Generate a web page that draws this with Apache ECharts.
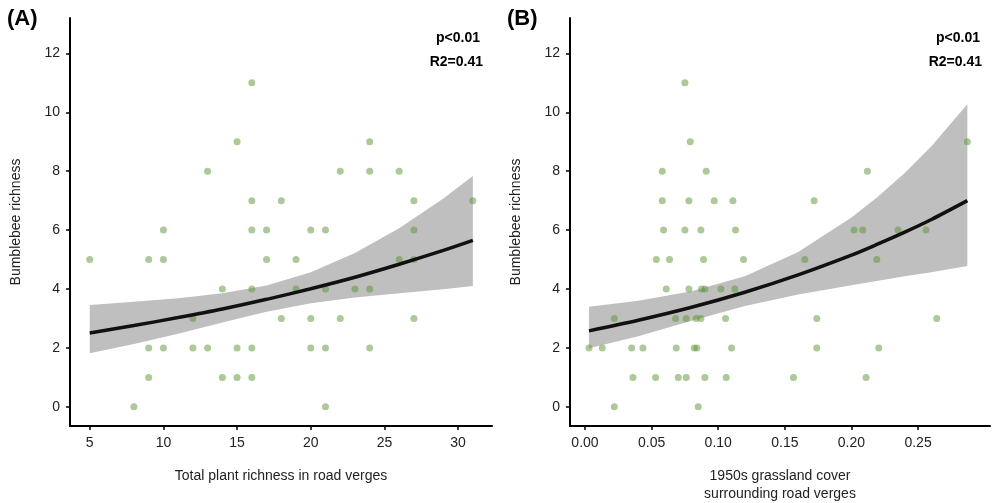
<!DOCTYPE html>
<html>
<head>
<meta charset="utf-8">
<script src="https://cdn.jsdelivr.net/npm/echarts@6/dist/echarts.min.js"></script>
<style>
  html, body { margin: 0; padding: 0; background: #fff; }
  #chart { width: 998px; height: 503px; }
</style>
</head>
<body>
<div id="chart"></div>
<script>
// panel A: plant richness vs bumblebee richness
const plantRichness = [5, 8, 9, 9, 9, 10, 10, 10, 12, 12, 13, 13, 14, 14, 15, 15, 15,
  16, 16, 16, 16, 16, 16, 17, 17, 18, 18, 19, 19, 20, 20, 20, 21, 21, 21, 21,
  22, 22, 23, 24, 24, 24, 24, 26, 26, 27, 27, 27, 27, 31]
const bumblebeeA = [5, 0, 5, 2, 1, 6, 5, 2, 3, 2, 8, 2, 4, 1, 9, 2, 1,
  11, 7, 6, 4, 2, 1, 6, 5, 7, 3, 5, 4, 6, 3, 2, 6, 4, 2, 0,
  8, 3, 4, 9, 8, 4, 2, 8, 5, 7, 6, 5, 3, 7]

// panel B: 1950s grassland cover vs bumblebee richness
const grassCover = [0.075, 0.079, 0.058, 0.091, 0.212, 0.058, 0.078, 0.097, 0.111, 0.172,
  0.059, 0.075, 0.087, 0.113, 0.202, 0.2085, 0.235, 0.256,
  0.0535, 0.0635, 0.089, 0.119, 0.165, 0.219,
  0.061, 0.078, 0.0875, 0.090, 0.102, 0.1125,
  0.022, 0.068, 0.076, 0.0835, 0.087, 0.1055, 0.174, 0.264,
  0.003, 0.013, 0.035, 0.0435, 0.0685, 0.082, 0.084, 0.110, 0.174, 0.2205,
  0.036, 0.053, 0.070, 0.076, 0.090, 0.106, 0.1565, 0.211,
  0.022, 0.085, 0.287]
const bumblebeeB = [11, 9, 8, 8, 8, 7, 7, 7, 7, 7,
  6, 6, 6, 6, 6, 6, 6, 6,
  5, 5, 5, 5, 5, 5,
  4, 4, 4, 4, 4, 4,
  3, 3, 3, 3, 3, 3, 3, 3,
  2, 2, 2, 2, 2, 2, 2, 2, 2, 2,
  1, 1, 1, 1, 1, 1, 1, 1,
  0, 0, 9]

// fitted curves and confidence bands
const fitXA = [5, 8, 11, 14, 17, 20, 23, 26, 29, 31]
const fitYA = [2.51, 2.76, 3.03, 3.32, 3.65, 4.01, 4.40, 4.84, 5.31, 5.65]
const bandHiA = [3.46, 3.57, 3.69, 3.86, 4.12, 4.57, 5.22, 6.06, 7.07, 7.84]
const bandLoA = [1.82, 2.13, 2.48, 2.86, 3.23, 3.52, 3.71, 3.86, 3.99, 4.10]

const fitXB = [0.003, 0.04, 0.08, 0.12, 0.16, 0.2, 0.22, 0.24, 0.26, 0.287]
const fitYB = [2.58, 2.94, 3.38, 3.89, 4.48, 5.15, 5.53, 5.93, 6.36, 7.00]
const bandHiB = [3.40, 3.60, 3.92, 4.43, 5.26, 6.43, 7.14, 7.94, 8.85, 10.27]
const bandLoB = [1.99, 2.40, 2.92, 3.42, 3.81, 4.13, 4.28, 4.43, 4.57, 4.78]

const xTicksA = [5, 10, 15, 20, 25, 30]
const xTicksB = [0, 0.05, 0.1, 0.15, 0.2, 0.25]
const yTicks = [0, 2, 4, 6, 8, 10, 12]

const FONT = "'Liberation Sans', Arial, sans-serif"

const zip = (xs, ys) => xs.map((x, i) => [x, ys[i]])

const makeX = (idx, min, max, ticks, name, gap, fmt) => ({
  gridIndex: idx,
  type: 'value',
  min: min,
  max: max,
  splitLine: { show: false },
  axisLine: { onZero: false, lineStyle: { color: '#000', width: 2 } },
  axisTick: { customValues: ticks, length: 4, lineStyle: { color: '#000', width: 1.5 } },
  axisLabel: { customValues: ticks, color: '#222', fontSize: 14, margin: 10, fontFamily: FONT, formatter: fmt },
  name: name,
  nameLocation: 'middle',
  nameGap: gap,
  nameTextStyle: { color: '#222', fontSize: 14, fontFamily: FONT, lineHeight: 18 }
})

const makeY = (idx) => ({
  gridIndex: idx,
  type: 'value',
  min: -0.65,
  max: 13.2,
  splitLine: { show: false },
  axisLine: { onZero: false, lineStyle: { color: '#000', width: 2 } },
  axisTick: { customValues: yTicks, length: 4, lineStyle: { color: '#000', width: 1.5 } },
  axisLabel: { customValues: yTicks, color: '#222', fontSize: 14, margin: 10, fontFamily: FONT },
  name: 'Bumblebee richness',
  nameLocation: 'middle',
  nameRotate: 90,
  nameGap: 47,
  nameTextStyle: { color: '#222', fontSize: 14, fontFamily: FONT }
})

// confidence band: one polygon, upper edge then lower edge back
const bandSeries = (idx, xs, lo, hi) => ({
  type: 'custom', xAxisIndex: idx, yAxisIndex: idx,
  data: [0], silent: true, z: 1,
  renderItem: (params, api) => {
    const upper = xs.map((x, i) => api.coord([x, hi[i]]))
    const lower = xs.map((x, i) => api.coord([x, lo[i]])).reverse()
    return {
      type: 'polygon',
      shape: { points: upper.concat(lower) },
      style: { fill: '#bfbfbf' }
    }
  }
})

const pointSeries = (idx, xs, ys) => ({
  type: 'scatter', xAxisIndex: idx, yAxisIndex: idx,
  data: zip(xs, ys), symbolSize: 7,
  itemStyle: { color: 'rgb(88,150,48)', opacity: 0.5 }, z: 3
})

const fitSeries = (idx, xs, ys) => ({
  type: 'line', xAxisIndex: idx, yAxisIndex: idx,
  data: zip(xs, ys), smooth: 0.3, symbol: 'none',
  lineStyle: { color: '#111', width: 3.5 }, z: 4
})

const txt = (pos, text, size) => ({
  type: 'text', z: 10, ...pos,
  style: { text: text, fontSize: size, fontWeight: 'bold', fill: '#000', fontFamily: FONT }
})

const chart = echarts.init(document.getElementById('chart'))

chart.setOption({
  animation: false,
  grid: [
    { left: 70, right: 506, top: 18, bottom: 77, outerBoundsMode: 'none' },
    { left: 570, right: 8, top: 18, bottom: 77, outerBoundsMode: 'none' }
  ],
  xAxis: [
    makeX(0, 3.66, 32.3, xTicksA, 'Total plant richness in road verges', 41),
    makeX(1, -0.01125, 0.304, xTicksB, '1950s grassland cover\nsurrounding road verges', 41, v => v.toFixed(2))
  ],
  yAxis: [makeY(0), makeY(1)],
  series: [
    bandSeries(0, fitXA, bandLoA, bandHiA),
    pointSeries(0, plantRichness, bumblebeeA),
    fitSeries(0, fitXA, fitYA),
    bandSeries(1, fitXB, bandLoB, bandHiB),
    pointSeries(1, grassCover, bumblebeeB),
    fitSeries(1, fitXB, fitYB)
  ],
  graphic: [
    txt({ left: 7, top: 8 }, '(A)', 22),
    txt({ left: 507, top: 8 }, '(B)', 22),
    txt({ right: 518, top: 31 }, 'p<0.01', 14),
    txt({ right: 515, top: 55 }, 'R2=0.41', 14),
    txt({ right: 18, top: 31 }, 'p<0.01', 14),
    txt({ right: 16, top: 55 }, 'R2=0.41', 14)
  ]
})

window.addEventListener('resize', () => chart.resize())
</script>
</body>
</html>
